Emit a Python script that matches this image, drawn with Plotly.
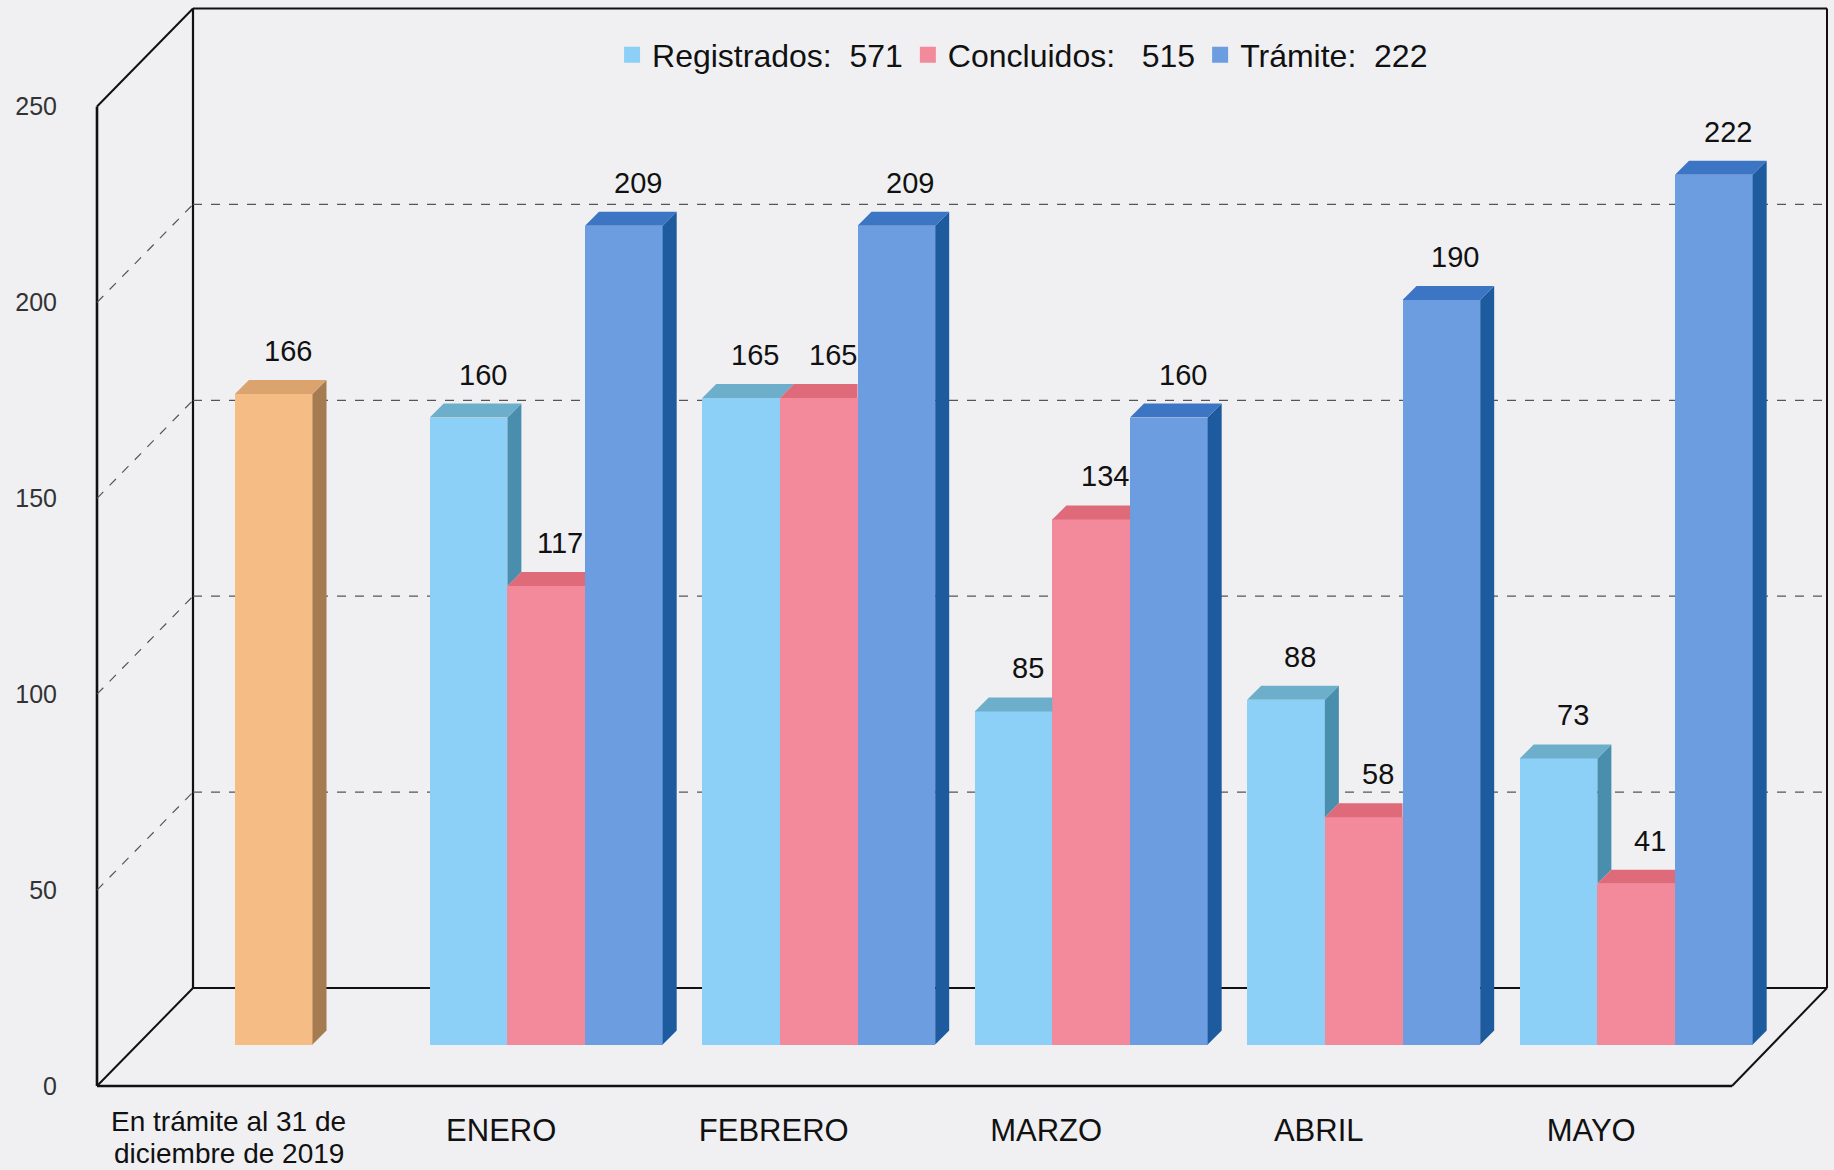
import plotly.graph_objects as go

# ---------------- data ----------------
first_label_lines = ["En trámite al 31 de", "diciembre de 2019"]
months = ["ENERO", "FEBRERO", "MARZO", "ABRIL", "MAYO"]
pendiente_inicial = [166]
registrados = [160, 165, 85, 88, 73]
concluidos = [117, 165, 134, 58, 41]
tramite = [209, 209, 160, 190, 222]
y_ticks = [0, 50, 100, 150, 200, 250]

# ---------------- geometry / style ----------------
FIG_W, FIG_H = 1834, 1170
M_L, M_R, M_T, M_B = 97, 7, 0, 80
PLOT_W = FIG_W - M_L - M_R
PLOT_H = FIG_H - M_T - M_B
PX_PER_UNIT = 3.918
PX_PER_CAT = 272.5
FIRST_CAT_PX = 273.7
LABEL_SHIFT_PX = -45

def y_range(zero_px):
    r0 = -(FIG_H - M_B - zero_px) / PX_PER_UNIT
    return [r0, r0 + PLOT_H / PX_PER_UNIT]

bar_range = y_range(1044.5)   # bars (floor)
wall_range = y_range(988)     # back wall
axis_range = y_range(1086)    # front axis labels
x0 = -(FIRST_CAT_PX - M_L) / PX_PER_CAT
x_range = [x0, x0 + PLOT_W / PX_PER_CAT]

def py(v, rng):
    return (v - rng[0]) / (rng[1] - rng[0])

WALL_X = (193 - M_L) / PLOT_W
FLOOR_RIGHT_X = (1732 - M_L) / PLOT_W

BW = 0.285
DX = 14 / PX_PER_CAT
DY = 14 / PX_PER_UNIT

FONT = "Liberation Sans, Arial, sans-serif"
BG = "#F0F0F3"

colors = {
    "orange": ("#F5BC86", "#A57B52", "#DBA36E"),
    "lblue": ("#8DD0F7", "#4A8EAE", "#6DAECB"),
    "pink": ("#F38A9B", "#C85A6A", "#DE6A7A"),
    "blue": ("#6C9DE0", "#1E5A9E", "#3C75C4"),
}

fig = go.Figure()

# front faces
fig.add_trace(go.Bar(x=[0], y=pendiente_inicial, width=BW, marker=dict(color=colors["orange"][0], line=dict(width=0)),
                     showlegend=False, hoverinfo="skip"))
series = [
    ("Registrados:\u00a0\u00a0" + str(sum(registrados)), registrados, "lblue"),
    ("Concluidos:\u00a0\u00a0\u00a0" + str(sum(concluidos)), concluidos, "pink"),
    ("Trámite:\u00a0\u00a0" + str(tramite[-1]), tramite, "blue"),
]
mx = list(range(1, len(months) + 1))
for k, (name, vals, ck) in enumerate(series):
    fig.add_trace(go.Bar(x=mx, y=vals, width=BW, offset=(k - 1.5) * BW, name=name, showlegend=False,
                         marker=dict(color=colors[ck][0], line=dict(width=0)), hoverinfo="skip"))

# 3D side/top faces
bars = [(0.0, pendiente_inicial[0], "orange", None)]
for i in range(len(months)):
    for k, (_, vals, ck) in enumerate(series):
        c = mx[i] + (k - 1) * BW
        nxt = series[k + 1][1][i] if k + 1 < len(series) else None
        bars.append((c, vals[i], ck, nxt))

poly = {}
for c, v, ck, n in bars:
    xl, xr = c - BW / 2, c + BW / 2
    base = 0 if n is None else n
    side = poly.setdefault((ck, 1), ([], []))
    if v > base:
        side[0].extend([xr, xr + DX, xr + DX, xr, xr, None])
        side[1].extend([base, base + DY, v + DY, v, base, None])
    top = poly.setdefault((ck, 2), ([], []))
    if n is not None and n > v:
        m = min(n, v + DY)
        xs = [xl, xr, xr, xr + (m - v) / DY * DX, xr + DX, xl + DX, xl, None]
        ys = [v, v, m, m, v + DY, v + DY, v, None]
    else:
        xs = [xl, xr, xr + DX, xl + DX, xl, None]
        ys = [v, v, v + DY, v + DY, v, None]
    top[0].extend(xs); top[1].extend(ys)

for (ck, face), (xs, ys) in poly.items():
    if not xs:
        continue
    fig.add_trace(go.Scatter(x=xs, y=ys, mode="lines", fill="toself", line=dict(width=0),
                             fillcolor=colors[ck][face], showlegend=False, hoverinfo="skip"))

# legend entries (square swatches)
for name, vals, ck in series:
    fig.add_trace(go.Scatter(x=[None], y=[None], mode="markers", name=name,
                             marker=dict(symbol="square", size=22, color=colors[ck][0]), hoverinfo="skip"))

# value labels
for c, v, ck, n in bars:
    fig.add_annotation(x=c, y=v, xref="x", yref="y", text=str(v), showarrow=False,
                       yanchor="middle", xshift=14, yshift=43,
                       font=dict(family=FONT, size=29, color="#111111"))

# first category label (two lines, tight spacing)
for j, txt in enumerate(first_label_lines):
    fig.add_annotation(x=0, y=0, xref="x", yref="paper", text=txt, showarrow=False,
                       yanchor="middle", xshift=LABEL_SHIFT_PX, yshift=-(1121 - (FIG_H - M_B)) - 32 * j,
                       font=dict(family=FONT, size=28, color="#111111"))

# frame shapes
shapes = []
def line(xa, ya, xb, yb, w=2.2, dash="solid", color="#111111"):
    shapes.append(dict(type="line", xref="paper", yref="paper", x0=xa, y0=ya, x1=xb, y1=yb,
                       line=dict(color=color, width=w, dash=dash), layer="below"))

top_v, bot_v = y_ticks[-1], y_ticks[0]
line(0, py(bot_v, axis_range), 0, py(top_v, axis_range), 2.6)
line(0, py(top_v, axis_range), WALL_X, py(top_v, wall_range), 2)
line(0, py(bot_v, axis_range), WALL_X, py(bot_v, wall_range), 2)
line(WALL_X, py(bot_v, wall_range), WALL_X, py(top_v, wall_range), 2.2)
line(WALL_X, py(top_v, wall_range), 1, py(top_v, wall_range), 2)
line(1, py(top_v, wall_range), 1, py(bot_v, wall_range), 2)
line(WALL_X, py(bot_v, wall_range), 1, py(bot_v, wall_range), 2)
line(0, py(bot_v, axis_range), FLOOR_RIGHT_X, py(bot_v, axis_range), 2.6)
line(FLOOR_RIGHT_X, py(bot_v, axis_range), 1, py(bot_v, wall_range), 2)
for v in y_ticks[1:-1]:
    line(0, py(v, axis_range), WALL_X, py(v, wall_range), 1.2, "dash", "#555555")
    line(WALL_X, py(v, wall_range), 1, py(v, wall_range), 1.2, "dash", "#555555")

# axis tick labels live on the front edge: map label-axis values onto the bar axis
tick_pos = [t - axis_range[0] + bar_range[0] for t in y_ticks]
month_tick_pos = [m + LABEL_SHIFT_PX / PX_PER_CAT for m in mx]

fig.update_layout(
    width=FIG_W, height=FIG_H,
    margin=dict(l=M_L, r=M_R, t=M_T, b=M_B, autoexpand=False),
    paper_bgcolor=BG, plot_bgcolor=BG,
    barmode="overlay",
    bargap=0,
    shapes=shapes,
    font=dict(family=FONT, color="#111111"),
    showlegend=True,
    legend=dict(orientation="h", x=0.535, y=(FIG_H - M_B - 55) / PLOT_H,
                xanchor="center", yanchor="middle", bgcolor="rgba(0,0,0,0)",
                font=dict(family=FONT, size=32, color="#111111"), itemwidth=30, tracegroupgap=0),
    xaxis=dict(range=x_range, tickmode="array", tickvals=month_tick_pos, ticktext=months,
               showgrid=False, zeroline=False, showline=False, ticks="outside", ticklen=13,
               tickcolor="rgba(0,0,0,0)", tickfont=dict(family=FONT, size=31, color="#111111"),
               automargin=False, fixedrange=True),
    yaxis=dict(range=bar_range, showgrid=False, zeroline=False, showline=False,
               tickmode="array", tickvals=tick_pos, ticktext=[str(t) for t in y_ticks],
               ticks="outside", ticklen=34, tickcolor="rgba(0,0,0,0)",
               tickfont=dict(family=FONT, size=25, color="#333333"),
               automargin=False, fixedrange=True),
)

fig.write_html("out.html", config={"displayModeBar": False},
               post_script="document.body.style.margin='0';")
